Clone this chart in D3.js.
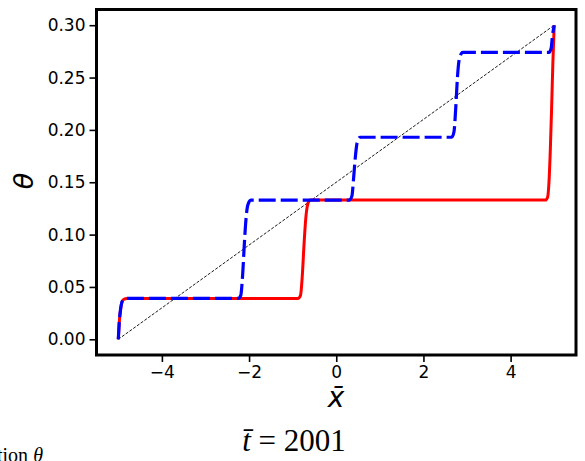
<!DOCTYPE html>
<html><head><meta charset="utf-8">
<script src="https://cdn.jsdelivr.net/npm/d3@7"></script>
<style>body{margin:0;background:#fff}svg{display:block}</style>
</head><body>
<svg id="c" width="585" height="461"></svg>
<script>
const xTicks = [-4, -2, 0, 2, 4];
const yTicks = [0.00, 0.05, 0.10, 0.15, 0.20, 0.25, 0.30];
const diagX = [-5, 5];
const diagY = [0, 0.3];
const redX = [-5.00,-4.98,-4.95,-4.92,-4.88,-4.80,-0.88,-0.82,-0.78,-0.74,-0.70,-0.66,-0.60,4.80,4.85,4.88,4.91,4.94,4.97,5.00];
const redY = [0.000,0.015,0.028,0.035,0.038,0.039,0.039,0.042,0.060,0.090,0.115,0.128,0.133,0.133,0.136,0.150,0.180,0.220,0.265,0.300];
const blueX = [-5.00,-4.98,-4.95,-4.92,-4.88,-4.80,-2.25,-2.19,-2.15,-2.11,-2.07,-2.03,-1.96,0.30,0.36,0.40,0.44,0.48,0.55,2.65,2.70,2.74,2.78,2.82,2.90,4.88,4.93,4.96,5.00];
const blueY = [0.000,0.015,0.028,0.035,0.038,0.039,0.039,0.042,0.060,0.090,0.115,0.128,0.133,0.133,0.137,0.155,0.175,0.188,0.193,0.193,0.198,0.220,0.250,0.267,0.274,0.274,0.278,0.290,0.300];

const svg = d3.select("#c");
const L = 96.5, R = 576, T = 9.5, B = 355;
const x = d3.scaleLinear().domain([-5.5, 5.5]).range([L, R]);
const y = d3.scaleLinear().domain([-0.015, 0.315]).range([B, T]);

svg.append("clipPath").attr("id","pc").append("rect")
  .attr("x", L).attr("y", T).attr("width", R-L).attr("height", B-T);

const line = d3.line().x(d=>x(d[0])).y(d=>y(d[1])).curve(d3.curveMonotoneX);
const g = svg.append("g").attr("clip-path","url(#pc)");
g.append("path").datum(diagX.map((v,i)=>[v,diagY[i]]))
  .attr("d", d3.line().x(d=>x(d[0])).y(d=>y(d[1])))
  .attr("fill","none").attr("stroke","#000").attr("stroke-width",0.9).attr("stroke-dasharray","3,1.6");
g.append("path").datum(redX.map((v,i)=>[v,redY[i]]))
  .attr("d", line).attr("fill","none").attr("stroke","#ff0000").attr("stroke-width",3).attr("stroke-linejoin","round");
g.append("path").datum(blueX.map((v,i)=>[v,blueY[i]]))
  .attr("d", line).attr("fill","none").attr("stroke","#0000ff").attr("stroke-width",3.2).attr("stroke-dasharray","17,5");

const xa = svg.append("g").attr("transform",`translate(0,${B})`)
  .call(d3.axisBottom(x).tickValues(xTicks).tickSize(7).tickPadding(4).tickFormat(d3.format("d")));
const ya = svg.append("g").attr("transform",`translate(${L},0)`)
  .call(d3.axisLeft(y).tickValues(yTicks).tickSize(7).tickPadding(4).tickFormat(d3.format(".2f")));
[xa, ya].forEach(a=>{
  a.select(".domain").remove();
  a.selectAll(".tick line").attr("stroke","#000").attr("stroke-width",1.6);
  a.selectAll(".tick text").attr("font-family","DejaVu Sans").attr("font-size",17).attr("fill","#000");
});

svg.append("rect").attr("x",L).attr("y",T).attr("width",R-L).attr("height",B-T)
  .attr("fill","none").attr("stroke","#000").attr("stroke-width",3);

svg.append("text").attr("transform","translate(33,181) rotate(-90)")
  .attr("text-anchor","middle").attr("font-family","DejaVu Sans").attr("font-style","italic")
  .attr("font-size",27).text("θ");
svg.append("text").attr("x",336).attr("y",407).attr("text-anchor","middle")
  .attr("font-family","DejaVu Sans").attr("font-style","italic").attr("font-size",28).text("x\u0304");
svg.append("text").attr("x",294).attr("y",451).attr("text-anchor","middle")
  .attr("font-family","Liberation Serif").attr("font-size",31)
  .html('<tspan font-style="italic">t\u0304</tspan> = 2001');
svg.append("text").attr("x",-3).attr("y",462)
  .attr("font-family","Liberation Serif").attr("font-size",20)
  .html('tion <tspan font-style="italic">θ</tspan>');
</script>
</body></html>
